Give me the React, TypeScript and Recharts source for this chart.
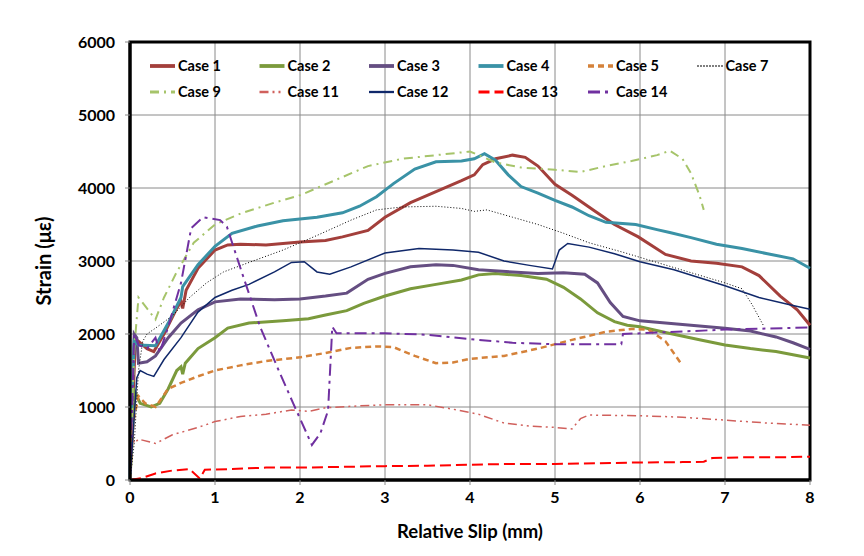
import React from "react";
import { LineChart, Line, XAxis, YAxis, CartesianGrid, ReferenceArea } from "recharts";

// [relative slip (mm), strain (µε)]
const case1 = [
  [0, 0], [0.03, 900], [0.06, 1850], [0.1, 1900], [0.2, 1800], [0.28, 1760], [0.4, 2000], [0.55, 2350],
  [0.6, 2450], [0.62, 2350], [0.66, 2600], [0.8, 2900], [1.0, 3150], [1.15, 3220], [1.3, 3230], [1.6, 3220],
  [2.0, 3260], [2.3, 3280], [2.5, 3330], [2.8, 3420], [3.0, 3600], [3.3, 3800], [3.6, 3950], [3.9, 4100],
  [4.05, 4180], [4.15, 4320], [4.3, 4400], [4.5, 4450], [4.65, 4420], [4.8, 4300], [5.0, 4050], [5.2, 3900],
  [5.45, 3700], [5.7, 3500], [5.98, 3330], [6.3, 3090], [6.6, 3000], [6.9, 2970], [7.2, 2920], [7.4, 2800],
  [7.65, 2520], [7.85, 2330], [8.0, 2120],
];
const case2 = [
  [0, 0], [0.03, 700], [0.06, 1200], [0.12, 1050], [0.25, 1000], [0.35, 1050], [0.45, 1250], [0.55, 1500],
  [0.6, 1550], [0.62, 1450], [0.65, 1600], [0.8, 1800], [1.0, 1950], [1.15, 2080], [1.4, 2150], [1.8, 2180],
  [2.1, 2210], [2.3, 2260], [2.55, 2320], [2.75, 2420], [3.0, 2520], [3.3, 2620], [3.6, 2680], [3.9, 2740],
  [4.1, 2810], [4.3, 2830], [4.6, 2800], [4.9, 2750], [5.1, 2640], [5.3, 2480], [5.5, 2290], [5.7, 2170],
  [5.85, 2120], [6.0, 2100], [6.3, 2020], [6.7, 1920], [7.0, 1850], [7.3, 1800], [7.6, 1760], [8.0, 1670],
];
const case3 = [
  [0, 0], [0.02, 1000], [0.05, 2000], [0.08, 1950], [0.1, 1600], [0.2, 1620], [0.3, 1700], [0.45, 1950],
  [0.6, 2150], [0.8, 2330], [1.0, 2440], [1.3, 2480], [1.7, 2470], [2.0, 2480], [2.3, 2520], [2.55, 2560],
  [2.8, 2750], [3.0, 2830], [3.3, 2920], [3.6, 2950], [3.8, 2940], [4.1, 2880], [4.5, 2850], [4.8, 2830],
  [5.1, 2840], [5.35, 2820], [5.5, 2700], [5.65, 2430], [5.8, 2240], [6.0, 2180], [6.5, 2130], [7.0, 2080],
  [7.3, 2040], [7.6, 1960], [7.8, 1880], [8.0, 1790],
];
const case4 = [
  [0, 0], [0.02, 1100], [0.05, 1900], [0.1, 1850], [0.3, 1840], [0.45, 2150], [0.6, 2500], [0.62, 2650],
  [0.8, 2950], [1.0, 3200], [1.2, 3380], [1.5, 3480], [1.8, 3550], [2.2, 3600], [2.5, 3660], [2.7, 3750],
  [2.9, 3880], [3.1, 4060], [3.35, 4260], [3.6, 4360], [3.9, 4370], [4.05, 4400], [4.17, 4470], [4.3, 4380],
  [4.45, 4180], [4.6, 4020], [4.8, 3930], [5.0, 3830], [5.2, 3740], [5.4, 3620], [5.6, 3530], [5.95, 3500],
  [6.2, 3430], [6.35, 3390], [6.6, 3320], [6.9, 3230], [7.2, 3170], [7.5, 3100], [7.8, 3030], [8.0, 2900],
];
const case5 = [
  [0, 0], [0.04, 800], [0.1, 1150], [0.18, 1050], [0.3, 1000], [0.45, 1250], [0.6, 1330], [0.8, 1420],
  [1.0, 1500], [1.3, 1570], [1.6, 1630], [2.0, 1680], [2.3, 1740], [2.6, 1810], [2.9, 1830], [3.1, 1820],
  [3.35, 1700], [3.6, 1600], [3.8, 1610], [4.0, 1660], [4.4, 1700], [4.8, 1800], [5.2, 1920], [5.6, 2030],
  [5.9, 2070], [6.1, 2060], [6.3, 1900], [6.42, 1700], [6.48, 1600],
];
const case7 = [
  [0, 0], [0.05, 500], [0.1, 1500], [0.15, 1900], [0.2, 2000], [0.3, 2080], [0.5, 2250], [0.7, 2500],
  [0.9, 2700], [1.1, 2850], [1.4, 2980], [1.8, 3150], [2.2, 3350], [2.6, 3560], [2.9, 3700], [3.2, 3740],
  [3.6, 3750], [3.9, 3720], [4.05, 3680], [4.2, 3700], [4.5, 3600], [4.8, 3500], [5.1, 3380], [5.4, 3250],
  [5.8, 3120], [6.2, 2980], [6.6, 2840], [7.0, 2700], [7.2, 2620], [7.32, 2400], [7.45, 2120],
];
const case9 = [
  [0, 0], [0.05, 1800], [0.1, 2500], [0.2, 2350], [0.3, 2200], [0.4, 2500], [0.55, 2850], [0.75, 3250],
  [1.0, 3500], [1.3, 3650], [1.7, 3800], [2.0, 3900], [2.4, 4100], [2.8, 4300], [3.2, 4400], [3.6, 4450],
  [4.0, 4500], [4.3, 4350], [4.6, 4280], [5.0, 4250], [5.3, 4220], [5.6, 4300], [5.9, 4370], [6.2, 4450],
  [6.35, 4510], [6.5, 4400], [6.6, 4200], [6.7, 3900], [6.75, 3700],
];
const case11 = [
  [0, 0], [0.02, 700], [0.05, 500], [0.1, 560], [0.3, 500], [0.5, 620], [0.8, 720], [1.0, 800],
  [1.3, 870], [1.6, 900], [1.9, 960], [2.1, 940], [2.3, 990], [2.6, 1010], [3.0, 1030], [3.5, 1030],
  [3.8, 970], [4.1, 900], [4.4, 780], [4.7, 740], [5.0, 720], [5.2, 700], [5.3, 840], [5.4, 890],
  [6.0, 880], [6.5, 860], [7.0, 820], [7.5, 780], [8.0, 750],
];
const case12 = [
  [0, 0], [0.04, 700], [0.08, 1400], [0.12, 1500], [0.2, 1450], [0.28, 1420], [0.4, 1650], [0.6, 1950],
  [0.8, 2300], [1.0, 2500], [1.2, 2600], [1.4, 2680], [1.7, 2850], [1.9, 2980], [2.05, 2990], [2.2, 2850],
  [2.35, 2820], [2.6, 2920], [3.0, 3110], [3.4, 3170], [3.8, 3150], [4.1, 3120], [4.4, 3000], [4.7, 2940],
  [4.97, 2890], [5.05, 3150], [5.15, 3240], [5.4, 3190], [5.7, 3100], [6.0, 2990], [6.4, 2880], [7.0, 2660],
  [7.4, 2500], [7.8, 2390], [8.0, 2340],
];
const case13 = [
  [0, 0], [0.15, 30], [0.3, 90], [0.5, 130], [0.7, 150], [0.82, 20], [0.88, 140], [1.2, 150],
  [1.6, 170], [2.0, 170], [2.5, 180], [3.0, 190], [3.5, 195], [4.0, 210], [4.5, 220], [5.0, 220],
  [5.5, 230], [6.0, 240], [6.5, 245], [6.75, 250], [6.85, 300], [7.2, 310], [7.6, 310], [8.0, 320],
];
const case14 = [
  [0, 0], [0.03, 1200], [0.05, 2000], [0.1, 1850], [0.2, 1800], [0.3, 1950], [0.35, 1750], [0.45, 2100],
  [0.6, 2700], [0.72, 3450], [0.86, 3600], [1.06, 3560], [1.14, 3470], [1.3, 2900], [1.53, 2100], [1.75, 1500],
  [1.92, 1050], [2.14, 480], [2.24, 640], [2.33, 950], [2.38, 2100], [2.43, 2010], [3.0, 2010], [3.5, 1990],
  [4.0, 1930], [4.5, 1880], [5.0, 1860], [5.78, 1860], [5.8, 2000], [6.2, 2020], [7.0, 2060], [8.0, 2090],
];

const xTicks = [0, 1, 2, 3, 4, 5, 6, 7, 8];
const yTicks = [0, 1000, 2000, 3000, 4000, 5000, 6000];

const series = [
  { name: "Case 1", pts: case1, color: "#A33F3B", width: 3, dash: undefined },
  { name: "Case 2", pts: case2, color: "#7B9A3C", width: 3, dash: undefined },
  { name: "Case 3", pts: case3, color: "#654E82", width: 3, dash: undefined },
  { name: "Case 4", pts: case4, color: "#3A92A6", width: 3, dash: undefined },
  { name: "Case 5", pts: case5, color: "#D5823A", width: 2.5, dash: "6 4" },
  { name: "Case 7", pts: case7, color: "#000000", width: 1, dash: "1 2" },
  { name: "Case 9", pts: case9, color: "#A6C46A", width: 2, dash: "9 5 2 5" },
  { name: "Case 11", pts: case11, color: "#D0605C", width: 1.5, dash: "9 4 2 4 2 4" },
  { name: "Case 12", pts: case12, color: "#10286A", width: 1.5, dash: undefined },
  { name: "Case 13", pts: case13, color: "#FF0000", width: 2, dash: "11 5" },
  { name: "Case 14", pts: case14, color: "#7030A0", width: 2, dash: "12 5 3 5" },
];

const W = 848;
const H = 540;
const FONT = "Lato, 'Open Sans', sans-serif";

function LegendOverlay() {
  return (
    <svg width={W} height={110} style={{ position: "absolute", left: 0, top: 0, pointerEvents: "none" }}>
      {series.map((s, i) => {
        const row = i < 6 ? 0 : 1;
        const col = i < 6 ? i : i - 6;
        const x = 142 + col * 109.5;
        const y = row === 0 ? 58 : 84;
        return (
          <g key={s.name}>
            <line x1={x} x2={x + 25} y1={y} y2={y} stroke={s.color} strokeWidth={s.width + 0.8} strokeDasharray={s.dash} />
            <text x={x + 28} y={y + 5} fontFamily={FONT} fontWeight={700} fontSize={14.5} fill="#000">
              {s.name}
            </text>
          </g>
        );
      })}
    </svg>
  );
}

export default function App() {
  return (
    <div style={{ position: "relative", width: W, height: H }}>
      <LineChart width={W} height={H} margin={{ top: 34, right: 46, bottom: 0, left: 0 }}>
        <CartesianGrid stroke="#8a8a8a" strokeWidth={1} />
        <XAxis
          type="number"
          dataKey="x"
          domain={[0, 8]}
          ticks={xTicks}
          height={68}
          tickSize={5}
          tickMargin={7}
          axisLine={{ stroke: "#000", strokeWidth: 3 }}
          tickLine={{ stroke: "#8a8a8a" }}
          tick={{ fill: "#000", fontFamily: FONT, fontWeight: 700, fontSize: 16 }}
          label={{
            value: "Relative Slip (mm)",
            position: "insideBottom",
            offset: 10,
            fill: "#000",
            fontFamily: FONT,
            fontWeight: 700,
            fontSize: 18.5,
          }}
        />
        <YAxis
          type="number"
          domain={[0, 6000]}
          ticks={yTicks}
          width={122}
          tickSize={5}
          tickMargin={10}
          axisLine={{ stroke: "#000", strokeWidth: 3 }}
          tickLine={{ stroke: "#8a8a8a" }}
          tick={{ fill: "#000", fontFamily: FONT, fontWeight: 700, fontSize: 16 }}
          label={{
            value: "Strain (με)",
            angle: -90,
            position: "insideLeft",
            offset: 36,
            style: { textAnchor: "middle" },
            fill: "#000",
            fontFamily: FONT,
            fontWeight: 700,
            fontSize: 20,
          }}
        />
        <ReferenceArea x1={0} x2={8} y1={0} y2={6000} fill="none" stroke="#000" strokeWidth={3} />
        {series.map((s) => (
          <Line
            key={s.name}
            name={s.name}
            data={s.pts.map(([x, y]) => ({ x, y }))}
            dataKey="y"
            type="linear"
            stroke={s.color}
            strokeWidth={s.width}
            strokeDasharray={s.dash}
            dot={false}
            activeDot={false}
            isAnimationActive={false}
          />
        ))}
      </LineChart>
      <LegendOverlay />
    </div>
  );
}
